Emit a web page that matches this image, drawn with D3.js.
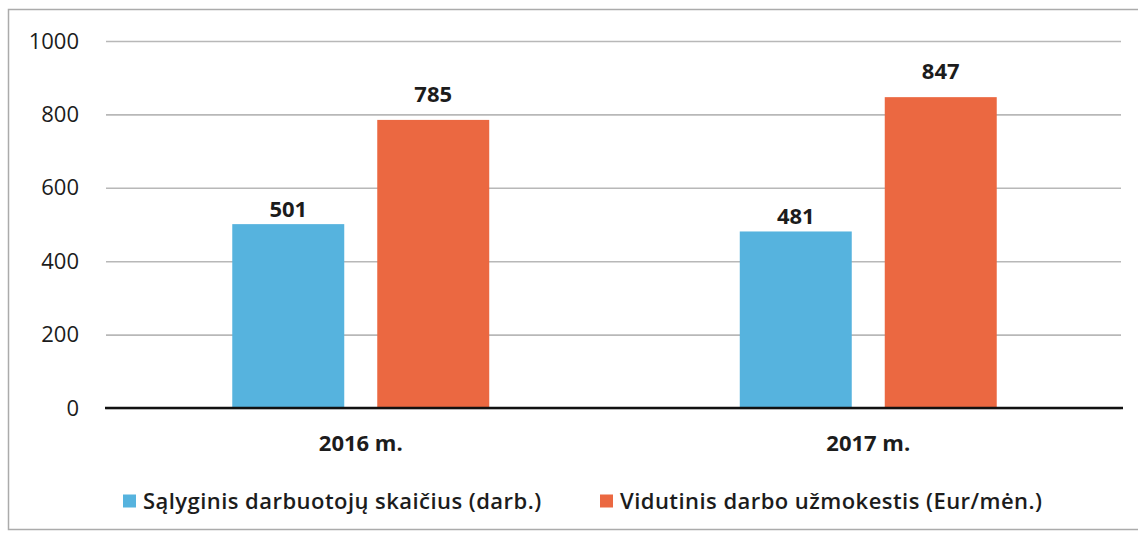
<!DOCTYPE html>
<html><head><meta charset="utf-8">
<script src="https://cdn.jsdelivr.net/npm/d3@7"></script>
<style>
html,body{margin:0;padding:0;background:#fff;}
svg{display:block;font-family:"Open Sans", sans-serif;}
</style></head>
<body><svg id="c" width="1138" height="533"></svg>
<script>
const categories = ["2016 m.", "2017 m."];
const seriesNames = ["Sąlyginis darbuotojų skaičius (darb.)", "Vidutinis darbo užmokestis (Eur/mėn.)"];
const employees = [501, 481];
const wages = [785, 847];
const yTicks = [0, 200, 400, 600, 800, 1000];
const colors = ["#56B3DE", "#EB6841"];
const labelGap = [7, 18];

const svg = d3.select("#c");
const m = {left: 107, right: 1122, top: 41, bottom: 408};
const FONT = "'Open Sans', sans-serif";

svg.append("rect").attr("x", 8.5).attr("y", 9.5).attr("width", 1140).attr("height", 520)
  .attr("fill", "#fff").attr("stroke", "#ababab").attr("stroke-width", 1.5);

const x0 = d3.scaleBand().domain(categories).range([m.left, m.right]).paddingInner(0).paddingOuter(0);
const x1 = d3.scaleBand().domain([0, 1]).range([0, x0.bandwidth()]).paddingInner(0.2276).paddingOuter(0.864);
const y = d3.scaleLinear().domain([0, 1000]).range([m.bottom, m.top]);

// gridlines + y tick labels
const yAxis = d3.axisLeft(y).tickValues(yTicks).tickFormat(d3.format("d")).tickSize(-(m.right - m.left)).tickPadding(27);
const gy = svg.append("g").attr("transform", `translate(${m.left - 1},0)`).call(yAxis);
gy.select(".domain").remove();
gy.selectAll(".tick line").attr("stroke", "#b8b8b8").attr("stroke-width", 1.6);
gy.selectAll(".tick text").attr("fill", "#1c1c1c").style("font-size", "22px").style("font-family", FONT);

const data = categories.map((c, i) => ({cat: c, vals: [employees[i], wages[i]]}));

const groups = svg.append("g").selectAll("g.grp").data(data).join("g").attr("class", "grp")
  .attr("transform", d => `translate(${x0(d.cat)},0)`);
groups.selectAll("rect").data(d => d.vals.map((v, k) => ({v, k}))).join("rect")
  .attr("x", d => x1(d.k)).attr("width", x1.bandwidth())
  .attr("y", d => y(d.v)).attr("height", d => y(0) - y(d.v))
  .attr("fill", d => colors[d.k]);
groups.selectAll("text.val").data(d => d.vals.map((v, k) => ({v, k}))).join("text")
  .attr("class", "val")
  .attr("x", d => x1(d.k) + x1.bandwidth() / 2).attr("y", d => y(d.v) - labelGap[d.k])
  .attr("text-anchor", "middle").style("font-size", "22px").style("font-weight", "bold")
  .style("font-family", FONT).attr("fill", "#1c1c1c")
  .text(d => d.v);

// x axis
const xAxis = d3.axisBottom(x0).tickSize(0).tickPadding(27);
const gx = svg.append("g").attr("transform", `translate(0,${m.bottom})`).call(xAxis);
gx.select(".domain").remove();
gx.selectAll(".tick text").attr("fill", "#1c1c1c").style("font-size", "22px").style("font-weight", "bold").style("font-family", FONT);
svg.append("line").attr("x1", m.left - 2).attr("x2", m.right + 1).attr("y1", y(0)).attr("y2", y(0))
  .attr("stroke", "#111").attr("stroke-width", 2.6);

// legend
const legX = [123, 600];
const leg = svg.append("g").selectAll("g").data(seriesNames).join("g")
  .attr("transform", (d, i) => `translate(${legX[i]},501)`);
leg.append("rect").attr("x", 0).attr("y", -6.5).attr("width", 13).attr("height", 13).attr("fill", (d, i) => colors[i]);
leg.append("text").attr("x", 20).attr("y", 0).attr("dy", "0.36em").style("font-size", "22px")
  .style("font-weight", "600").style("letter-spacing", "0.45px")
  .style("font-family", FONT).attr("fill", "#1c1c1c").text(d => d);
</script></body></html>
